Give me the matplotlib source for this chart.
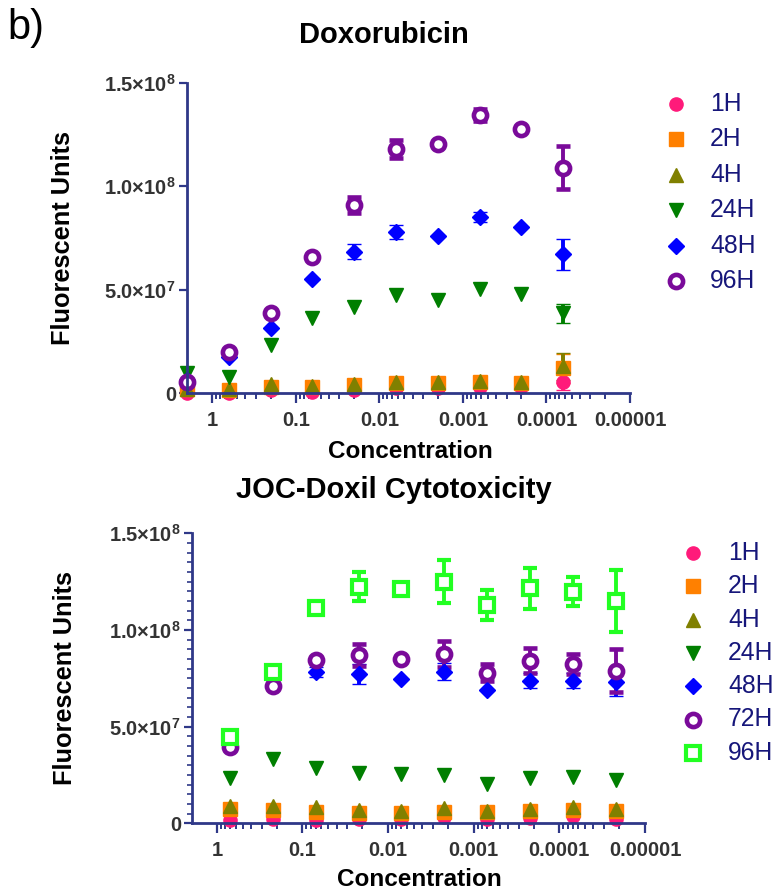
import numpy as np
import matplotlib
matplotlib.use("Agg")
import matplotlib.pyplot as plt
from matplotlib.lines import Line2D
from matplotlib.ticker import FixedLocator, LogLocator, MultipleLocator, NullFormatter

plt.rcParams["font.family"] = ["Liberation Sans", "DejaVu Sans"]
plt.rcParams["mathtext.default"] = "regular"

nan = np.nan

# ── Data ─────────────────────────────────────────────────────────────────────
DOX_CONC = [2, 0.632, 0.2, 0.0632, 0.02, 0.00632, 0.002, 0.000632, 0.0002, 0.0000632]
DOX_LABELS = ["1H", "2H", "4H", "24H", "48H", "96H"]
DOX_VALUES = [
    [0.3e6, 0.3e6, 1.6e6, 0.8e6, 1.6e6, 2.4e6, 2.4e6, 2.9e6, 2.9e6, 5.5e6],
    [2.0e6, 1.6e6, 3.2e6, 3.2e6, 4.0e6, 4.8e6, 4.8e6, 5.6e6, 4.8e6, 1.2e7],
    [2.0e6, 2.2e6, 4.5e6, 3.5e6, 4.5e6, 5.6e6, 5.6e6, 6.1e6, 5.6e6, 1.3e7],
    [9.7e6, 8.0e6, 2.33e7, 3.62e7, 4.18e7, 4.75e7, 4.5e7, 5.04e7, 4.8e7, 3.86e7],
    [6.4e6, 1.75e7, 3.14e7, 5.5e7, 6.84e7, 7.8e7, 7.61e7, 8.5e7, 8.05e7, 6.71e7],
    [5.6e6, 2.0e7, 3.86e7, 6.6e7, 9.1e7, 1.18e8, 1.203e8, 1.344e8, 1.278e8, 1.09e8],
]
DOX_ERRORS = [
    [nan, nan, nan, nan, nan, nan, nan, nan, nan, 4e6],
    [nan, nan, nan, nan, nan, nan, nan, nan, nan, 7e6],
    [nan, nan, nan, nan, nan, nan, nan, nan, nan, 6.5e6],
    [nan, nan, nan, nan, nan, nan, nan, nan, nan, 4.5e6],
    [nan, nan, nan, nan, 3.5e6, 3.5e6, nan, 2.5e6, nan, 7.5e6],
    [nan, nan, nan, nan, 4e6, 4.5e6, nan, 3e6, nan, 1.05e7],
]

DOXIL_CONC = [0.7, 0.221, 0.07, 0.0221, 0.007, 0.00221, 0.0007, 0.000221, 0.00007, 0.0000221]
DOXIL_LABELS = ["1H", "2H", "4H", "24H", "48H", "72H", "96H"]
DOXIL_VALUES = [
    [1.7e6, 2.2e6, 1.7e6, 2.2e6, 2.2e6, 3.4e6, 2.2e6, 2.9e6, 3.8e6, 2.4e6],
    [7.2e6, 6.9e6, 5.7e6, 5.2e6, 5.2e6, 6.0e6, 5.7e6, 6.4e6, 6.9e6, 6.4e6],
    [8.9e6, 8.9e6, 8.3e6, 6.9e6, 6.5e6, 7.8e6, 6.5e6, 7.6e6, 8.3e6, 7.2e6],
    [2.33e7, 3.31e7, 2.85e7, 2.59e7, 2.55e7, 2.48e7, 2.03e7, 2.36e7, 2.38e7, 2.24e7],
    [4.45e7, 7.15e7, 7.84e7, 7.72e7, 7.47e7, 7.84e7, 6.9e7, 7.38e7, 7.38e7, 7.3e7],
    [3.96e7, 7.1e7, 8.45e7, 8.7e7, 8.48e7, 8.76e7, 7.79e7, 8.41e7, 8.24e7, 7.9e7],
    [4.48e7, 7.84e7, 1.112e8, 1.224e8, 1.212e8, 1.25e8, 1.129e8, 1.216e8, 1.198e8, 1.15e8],
]
DOXIL_ERRORS = [
    [nan] * 10,
    [nan] * 10,
    [nan] * 10,
    [nan] * 10,
    [nan, nan, 2.5e6, 5e6, nan, 4.5e6, nan, 4e6, 4e6, 7e6],
    [nan, nan, nan, 5.5e6, nan, 6.5e6, 4.5e6, 6.5e6, 5e6, 1.1e7],
    [nan, nan, nan, 7.5e6, nan, 1.1e7, 8e6, 1.05e7, 7.5e6, 1.6e7],
]

XTICKS = [1, 0.1, 0.01, 0.001, 0.0001, 0.00001]
XTICK_LABELS = ["1", "0.1", "0.01", "0.001", "0.0001", "0.00001"]
YTICKS = [0, 5e7, 1e8, 1.5e8]
YTICK_LABELS = ["0", "5.0×10$^{7}$", "1.0×10$^{8}$", "1.5×10$^{8}$"]

# ── Styles ───────────────────────────────────────────────────────────────────
NAVY = "#2f3888"
LEGEND_COLOR = "#16167a"
PURPLE = "#7a0a9a"
STYLE = {
    "1H": dict(marker="o", color="#ff1a7a", ms=9.5),
    "2H": dict(marker="s", color="#ff8000", ms=9.5),
    "4H": dict(marker="^", color="#808000", ms=10.5),
    "24H": dict(marker="v", color="#007f00", ms=10.5),
    "48H": dict(marker="D", color="#0000ff", ms=8),
    "ring": dict(marker="o", color=PURPLE, mfc="white", mec=PURPLE, mew=3.3, ms=9.5),
    "box": dict(marker="s", color="#22ff22", mfc="white", mec="#22ff22", mew=3, ms=9.5),
}
DOX_STYLE = ["1H", "2H", "4H", "24H", "48H", "ring"]
DOXIL_STYLE = ["1H", "2H", "4H", "24H", "48H", "ring", "box"]

W, H = 772, 894


def fx(x):
    return x / W


def fy(y):
    return 1 - y / H


def draw_panel(ax, conc, values, errors, styles, xmax):
    for v, e, s in zip(values, errors, styles):
        st = STYLE[s]
        cont = ax.errorbar(conc, v, yerr=e, fmt=st["marker"], color=st["color"],
                           ms=st["ms"], mfc=st.get("mfc", st["color"]),
                           mec=st.get("mec", st["color"]), mew=st.get("mew", 1),
                           elinewidth=2.8, capsize=4.8, capthick=2.8, ecolor=st["color"])
        for art in [cont.lines[0], *cont.lines[1], *cont.lines[2]]:
            art.set_clip_on(False)
    ax.set_xscale("log")
    ax.set_xlim(xmax, 1e-5)
    ax.set_ylim(0, 1.5e8)
    for side in ["top", "right"]:
        ax.spines[side].set_visible(False)
    for side in ["left", "bottom"]:
        ax.spines[side].set_color(NAVY)
        ax.spines[side].set_linewidth(2)
    ax.xaxis.set_major_locator(FixedLocator(XTICKS))
    ax.set_xticklabels(XTICK_LABELS, fontsize=14.5, fontweight="bold", color="#333333")
    ax.xaxis.set_minor_locator(LogLocator(base=10, subs=range(2, 10), numticks=30))
    ax.xaxis.set_minor_formatter(NullFormatter())
    ax.set_yticks(YTICKS)
    ax.set_yticklabels(YTICK_LABELS, fontsize=14.5, fontweight="bold", color="#333333")
    ax.tick_params(axis="x", which="major", direction="out", length=7, width=1.6,
                   color=NAVY, pad=5.5)
    ax.tick_params(axis="x", which="minor", direction="out", length=4, width=1.4, color=NAVY)
    ax.tick_params(axis="y", which="major", direction="out", length=6, width=1.6,
                   color=NAVY, pad=2)
    ax.tick_params(axis="y", which="minor", direction="out", length=3.5, width=1.2, color=NAVY)


def draw_key(fig, labels, styles, x_marker, x_text, y_top, dy):
    for i, (lab, s) in enumerate(zip(labels, styles)):
        st = STYLE[s]
        y = y_top + i * dy
        fig.add_artist(Line2D([fx(x_marker)], [fy(y)], transform=fig.transFigure,
                              linestyle="none", marker=st["marker"], ms=st["ms"],
                              mfc=st.get("mfc", st["color"]), mec=st.get("mec", st["color"]),
                              mew=st.get("mew", 1)))
        fig.text(fx(x_text), fy(y), lab, fontsize=17.8, color=LEGEND_COLOR,
                 va="center", ha="left")


fig = plt.figure(figsize=(W / 100, H / 100), dpi=100)

# ── Doxorubicin ──────────────────────────────────────────────────────────────
ax1 = fig.add_axes([fx(187), fy(393.3), (630 - 187) / W, (393.3 - 82.7) / H])
draw_panel(ax1, DOX_CONC, DOX_VALUES, DOX_ERRORS, DOX_STYLE, 2.0)
fig.text(fx(384), fy(35), "Doxorubicin", fontsize=21, fontweight="bold",
         ha="center", va="center")
fig.text(fx(410), fy(452), "Concentration", fontsize=17.5, fontweight="bold",
         ha="center", va="center")
fig.text(fx(63), fy(238), "Fluorescent Units", fontsize=18.3, fontweight="bold",
         ha="center", va="center", rotation=90)
draw_key(fig, DOX_LABELS, DOX_STYLE, 676, 710, 104, 35.4)

# ── JOC-Doxil ────────────────────────────────────────────────────────────────
ax2 = fig.add_axes([fx(192), fy(823.3), (645 - 192) / W, (823.3 - 533.3) / H])
draw_panel(ax2, DOXIL_CONC, DOXIL_VALUES, DOXIL_ERRORS, DOXIL_STYLE, 1.95)
ax2.yaxis.set_minor_locator(MultipleLocator(5e6))
fig.text(fx(394), fy(490), "JOC-Doxil Cytotoxicity", fontsize=21, fontweight="bold",
         ha="center", va="center")
fig.text(fx(419), fy(879), "Concentration", fontsize=17.5, fontweight="bold",
         ha="center", va="center")
fig.text(fx(65), fy(678), "Fluorescent Units", fontsize=18.3, fontweight="bold",
         ha="center", va="center", rotation=90)
draw_key(fig, DOXIL_LABELS, DOXIL_STYLE, 693, 728, 553, 33.3)

fig.text(fx(26), fy(28), "b)", fontsize=30, ha="center", va="center")

fig.savefig("out.png", dpi=100, facecolor="white")
